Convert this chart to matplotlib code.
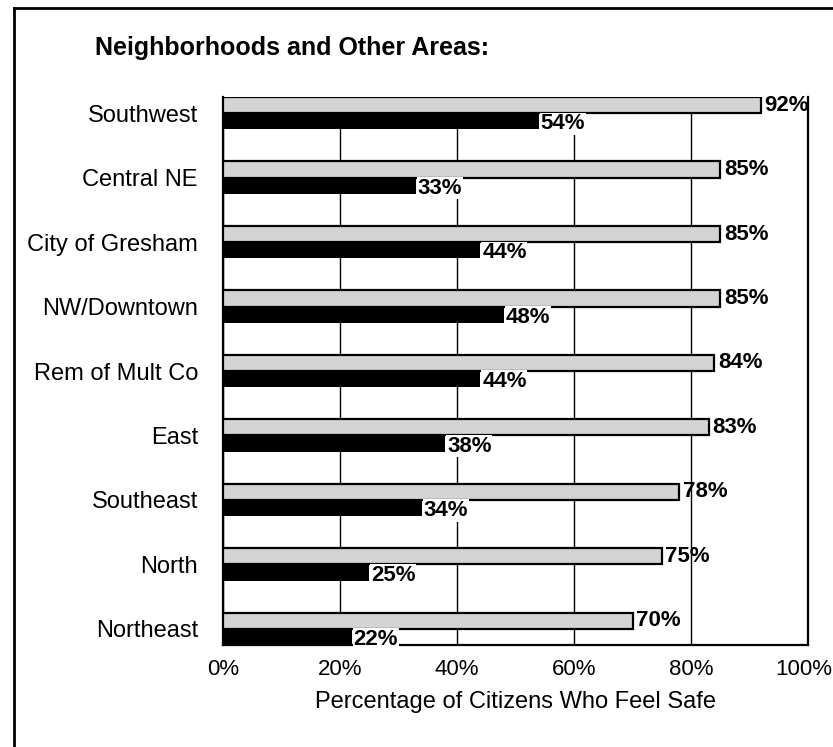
import matplotlib.pyplot as plt
from matplotlib.lines import Line2D
from matplotlib.transforms import ScaledTranslation

# data
areas = ['Southwest', 'Central NE', 'City of Gresham', 'NW/Downtown', 'Rem of Mult Co',
         'East', 'Southeast', 'North', 'Northeast']
safe_day = [92, 85, 85, 85, 84, 83, 78, 75, 70]
safe_night = [54, 33, 44, 48, 44, 38, 34, 25, 22]
xticks = [0, 20, 40, 60, 80, 100]

plt.rcParams['font.family'] = ['Liberation Sans', 'DejaVu Sans']

fig = plt.figure(figsize=(8.33, 7.47), dpi=100)
ax = fig.add_axes([223/833, 1-645/747, 585/833, 548/747])

h = 0.25
pos = list(range(len(areas)))
ax.barh([p - h/2 for p in pos], safe_day, height=h, color='#d4d4d4',
        edgecolor='black', linewidth=1.6, zorder=3)
ax.barh([p + h/2 for p in pos], safe_night, height=h, color='black', zorder=3)

for p, d, n in zip(pos, safe_day, safe_night):
    ax.text(d + 0.6, p - h/2, f'{d}%', va='center', ha='left', fontsize=16,
            fontweight='bold', zorder=4)
    ax.text(n + 0.3, p + h/2 + 0.04, f'{n}%', va='center', ha='left', fontsize=16,
            fontweight='bold', zorder=4,
            bbox=dict(facecolor='white', edgecolor='none', pad=0.5))

ax.set_xlim(0, 100)
ax.set_ylim(len(areas) - 1 + h, -h)
ax.set_xticks(xticks)
ax.set_xticklabels([f'{t}%' for t in xticks], fontsize=16)
ax.set_yticks(pos)
ax.set_yticklabels(areas, fontsize=17)
ax.tick_params(axis='both', length=0)
ax.tick_params(axis='y', pad=18)
ax.tick_params(axis='x', pad=10)
ax.set_xlabel('Percentage of Citizens Who Feel Safe', fontsize=17, labelpad=8)

# pull the 100% label a little inside the page
last = ax.get_xticklabels()[-1]
last.set_transform(last.get_transform() + ScaledTranslation(-4/100, 0, fig.dpi_scale_trans))

ax.grid(axis='x', color='black', linewidth=1.0, zorder=1)
ax.spines['top'].set_visible(False)
for s in ['left', 'right', 'bottom']:
    ax.spines[s].set_linewidth(1.6)

fig.text(95/833, 1-55/747, 'Neighborhoods and Other Areas:', fontsize=18,
         fontweight='bold', ha='left', va='baseline')

# outer frame of the scanned page
fig.add_artist(Line2D([14/833, 14/833], [0, 1-8/747], color='black', linewidth=2,
                      transform=fig.transFigure))
fig.add_artist(Line2D([14/833, 1], [1-8/747, 1-8/747], color='black', linewidth=2,
                      transform=fig.transFigure))

fig.savefig('out.png', dpi=100)
